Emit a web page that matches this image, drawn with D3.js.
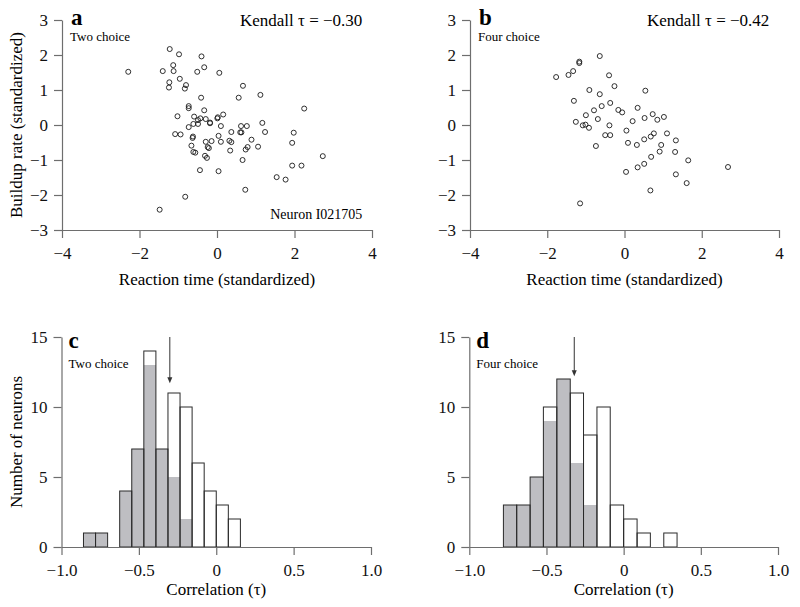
<!DOCTYPE html>
<html>
<head>
<meta charset="utf-8">
<script src="https://cdn.jsdelivr.net/npm/d3@7"></script>
<style>
  body { margin: 0; background: #fff; }
  svg { display: block; font-family: "Liberation Serif", "DejaVu Serif", serif; }
  .axis path, .axis line { stroke: #6e6e6e; stroke-width: 1.2; }
</style>
</head>
<body>
<svg id="fig" width="800" height="607"></svg>
<script>
'use strict'

/****** DATA ******/

// panel a: two choice, standardized RT vs buildup rate
const twoRT = [-2.29, -1.22, -0.98, -0.40, -1.40, -1.13, -1.12, -0.33, -0.51, 0.06,
  -0.96, -1.23, -1.24, -0.80, -0.83, 0.67, -0.41, 0.56, 1.12, -0.73,
  -0.73, -0.33, 2.25, -1.02, -0.59, -0.43, -0.49, -0.29, 0.01, 0.02,
  0.16, -0.18, -0.18, -0.61, -0.49, -0.73, 0.10, 0.62, 0.77, 1.17,
  -1.08, -0.94, 0.37, 0.60, 0.63, 1.24, 1.98, -0.62, -0.63, 0.04,
  -0.29, -0.14, 0.10, 0.32, 0.37, 0.89, 1.94, -0.66, -0.24, -0.21,
  0.79, 0.74, 1.06, -0.61, -0.56, 0.34, -0.31, -0.26, 0.66, 2.73,
  -0.44, 0.04, 1.94, 2.18, 1.54, 1.77, 0.73, -0.82, -1.48]
const twoRate = [1.52, 2.17, 2.02, 1.96, 1.54, 1.71, 1.54, 1.65, 1.52, 1.49,
  1.32, 1.22, 1.07, 1.14, 1.04, 1.12, 0.78, 0.78, 0.86, 0.54,
  0.48, 0.42, 0.47, 0.25, 0.24, 0.19, 0.14, 0.17, 0.19, 0.22,
  0.30, 0.07, 0.05, 0.03, 0.03, -0.06, -0.03, -0.03, -0.03, 0.06,
  -0.26, -0.27, -0.20, -0.21, -0.21, -0.20, -0.22, -0.33, -0.37, -0.31,
  -0.48, -0.46, -0.48, -0.45, -0.49, -0.42, -0.51, -0.59, -0.63, -0.66,
  -0.63, -0.70, -0.62, -0.77, -0.79, -0.73, -0.88, -0.94, -1.00, -0.89,
  -1.29, -1.32, -1.16, -1.16, -1.49, -1.56, -1.85, -2.05, -2.42]

// panel b: four choice
const fourRT = [-1.77, -1.45, -1.33, -1.17, -1.17, -0.64, -0.40, -0.26, -0.91, -0.64,
  0.54, -1.31, -0.59, -0.37, -0.79, -0.16, -0.06, 0.34, -1.00, -0.69,
  0.21, 0.52, 0.73, 0.85, 1.02, -1.26, -1.08, -1.01, -0.92, -0.39,
  -0.50, -0.37, 0.05, 0.76, 1.10, 0.09, 0.32, 0.51, 0.68, 0.95,
  1.33, -0.74, 0.69, 0.91, 1.31, 1.65, 2.68, 0.04, 0.34, 0.51,
  1.33, 1.61, 0.67, -1.15]
const fourRate = [1.37, 1.43, 1.54, 1.81, 1.77, 1.97, 1.42, 1.11, 1.00, 0.88,
  0.98, 0.69, 0.54, 0.63, 0.42, 0.43, 0.36, 0.49, 0.28, 0.17,
  0.11, 0.20, 0.31, 0.15, 0.23, 0.09, -0.01, 0.01, -0.08, -0.01,
  -0.29, -0.29, -0.16, -0.24, -0.24, -0.51, -0.57, -0.41, -0.33, -0.57,
  -0.44, -0.60, -0.91, -0.76, -0.77, -1.01, -1.20, -1.34, -1.21, -1.11,
  -1.41, -1.66, -1.87, -2.24]

// panel c: histogram of tau, two choice (gray = significant)
const twoBinEdges = [-0.858, -0.780, -0.702, -0.624, -0.546, -0.468, -0.390, -0.312,
  -0.234, -0.156, -0.078, 0, 0.078, 0.156]
const twoCounts = [1, 1, 0, 4, 7, 14, 7, 11, 10, 6, 4, 3, 2]
const twoGray   = [1, 1, 0, 4, 7, 13, 7, 5, 2, 0, 0, 0, 0]
const twoMedian = -0.30

// panel d: four choice
const fourBinEdges = [-0.779, -0.693, -0.606, -0.520, -0.433, -0.346, -0.260, -0.173,
  -0.087, 0, 0.087, 0.173, 0.260, 0.346]
const fourCounts = [3, 3, 5, 10, 12, 11, 8, 10, 3, 2, 1, 0, 1]
const fourGray   = [3, 3, 5, 9, 12, 6, 3, 0, 0, 0, 0, 0, 0]
const fourMedian = -0.32

const scatterXTicks = [-4, -2, 0, 2, 4]
const scatterYTicks = [-3, -2, -1, 0, 1, 2, 3]
const histXTicks = [-1, -0.5, 0, 0.5, 1]
const histYTicks = [0, 5, 10, 15]

/****** DRAWING ******/

const svg = d3.select('#fig')
const SERIF = '"Liberation Serif", serif'
const histFmt = d => d === 0 ? '0' : d3.format('.1f')(d).replace('-', '\u2212')

// d3 axes default to 10px sans-serif, switch tick labels to the figure font
function serifTicks(sel) {
  sel.attr('font-family', SERIF).attr('font-size', 17)
  sel.selectAll('text').attr('fill', '#111')
}

function scatterPanel(opt) {
  const x = d3.scaleLinear().domain([-4, 4]).range(opt.xr)
  const y = d3.scaleLinear().domain([-3, 3]).range([230, 20])
  const g = svg.append('g')

  g.append('g').attr('class', 'axis')
    .attr('transform', `translate(0,${y(-3)})`)
    .call(d3.axisBottom(x).tickValues(scatterXTicks).tickSize(8).tickSizeOuter(0).tickPadding(9)
      .tickFormat(d3.format('d')))
    .call(serifTicks)
  g.append('g').attr('class', 'axis')
    .attr('transform', `translate(${x(-4)},0)`)
    .call(d3.axisLeft(y).tickValues(scatterYTicks).tickSize(8).tickSizeOuter(0).tickPadding(6)
      .tickFormat(d3.format('d')))
    .call(serifTicks)

  g.selectAll('circle')
    .data(d3.zip(opt.rt, opt.rate))
    .join('circle')
      .attr('cx', d => x(d[0]))
      .attr('cy', d => y(d[1]))
      .attr('r', 2.5)
      .attr('fill', 'none')
      .attr('stroke', '#1a1a1a')
      .attr('stroke-width', 0.9)

  g.append('text').attr('x', x(-4) + 9).attr('y', 25)
    .attr('font-size', 23).attr('font-weight', 'bold').text(opt.letter)
  g.append('text').attr('x', x(-4) + 8).attr('y', 41)
    .attr('font-size', 13).text(opt.sub)
  g.append('text').attr('x', x(3.75)).attr('y', 26).attr('text-anchor', 'end')
    .attr('font-size', 17).text(opt.kendall)
  if (opt.neuron) {
    g.append('text').attr('x', x(3.75)).attr('y', 219).attr('text-anchor', 'end')
      .attr('font-size', 14).text(opt.neuron)
  }
  g.append('text').attr('x', x(0)).attr('y', 285).attr('text-anchor', 'middle')
    .attr('font-size', 17).text('Reaction time (standardized)')
  if (opt.ylabel) {
    g.append('text').attr('transform', `translate(22,${y(0)}) rotate(-90)`)
      .attr('text-anchor', 'middle').attr('font-size', 17).text(opt.ylabel)
  }
}

function histPanel(opt) {
  const x = d3.scaleLinear().domain([-1, 1]).range(opt.xr)
  const y = d3.scaleLinear().domain([0, 15]).range([547, 337])
  const g = svg.append('g')

  const bins = opt.counts.map((c, i) => ({ x0: opt.edges[i], x1: opt.edges[i + 1], n: c, gray: opt.gray[i] }))
    .filter(b => b.n > 0)

  g.selectAll('.bar-gray')
    .data(bins)
    .join('rect')
      .attr('class', 'bar-gray')
      .attr('x', b => x(b.x0))
      .attr('width', b => x(b.x1) - x(b.x0))
      .attr('y', b => y(b.gray))
      .attr('height', b => y(0) - y(b.gray))
      .attr('fill', '#bebec2')

  g.selectAll('.bar-outline')
    .data(bins)
    .join('rect')
      .attr('class', 'bar-outline')
      .attr('x', b => x(b.x0))
      .attr('width', b => x(b.x1) - x(b.x0))
      .attr('y', b => y(b.n))
      .attr('height', b => y(0) - y(b.n))
      .attr('fill', 'none')
      .attr('stroke', '#2a2a2a')
      .attr('stroke-width', 1)

  g.append('g').attr('class', 'axis')
    .attr('transform', `translate(0,${y(0)})`)
    .call(d3.axisBottom(x).tickValues(histXTicks).tickSize(8).tickSizeOuter(0).tickPadding(9)
      .tickFormat(histFmt))
    .call(serifTicks)
  g.append('g').attr('class', 'axis')
    .attr('transform', `translate(${x(-1)},0)`)
    .call(d3.axisLeft(y).tickValues(histYTicks).tickSize(8).tickSizeOuter(0).tickPadding(6))
    .call(serifTicks)

  // median arrow
  const ax = x(opt.median)
  g.append('line')
    .attr('x1', ax).attr('x2', ax)
    .attr('y1', y(15)).attr('y2', y(opt.arrowTip) - 5)
    .attr('stroke', '#333').attr('stroke-width', 1)
  g.append('path')
    .attr('d', d3.line()([[ax - 2.5, y(opt.arrowTip) - 6], [ax + 2.5, y(opt.arrowTip) - 6], [ax, y(opt.arrowTip)]]) + 'Z')
    .attr('fill', '#333')

  g.append('text').attr('x', x(-1) + 7).attr('y', 348)
    .attr('font-size', 23).attr('font-weight', 'bold').text(opt.letter)
  g.append('text').attr('x', x(-1) + 7).attr('y', 368)
    .attr('font-size', 13).text(opt.sub)
  g.append('text').attr('x', x(0)).attr('y', 595).attr('text-anchor', 'middle')
    .attr('font-size', 17).text('Correlation (\u03c4)')
  if (opt.ylabel) {
    g.append('text').attr('transform', `translate(22,${y(7.5)}) rotate(-90)`)
      .attr('text-anchor', 'middle').attr('font-size', 17).text(opt.ylabel)
  }
}

scatterPanel({ xr: [62, 372], rt: twoRT, rate: twoRate, letter: 'a', sub: 'Two choice',
  kendall: 'Kendall \u03c4 = \u22120.30', neuron: 'Neuron I021705', ylabel: 'Buildup rate (standardized)' })
scatterPanel({ xr: [470, 779], rt: fourRT, rate: fourRate, letter: 'b', sub: 'Four choice',
  kendall: 'Kendall \u03c4 = \u22120.42' })

histPanel({ xr: [61.5, 371], edges: twoBinEdges, counts: twoCounts, gray: twoGray,
  median: twoMedian, arrowTip: 11.7, letter: 'c', sub: 'Two choice', ylabel: 'Number of neurons' })
histPanel({ xr: [469.3, 778], edges: fourBinEdges, counts: fourCounts, gray: fourGray,
  median: fourMedian, arrowTip: 12.2, letter: 'd', sub: 'Four choice' })
</script>
</body>
</html>
